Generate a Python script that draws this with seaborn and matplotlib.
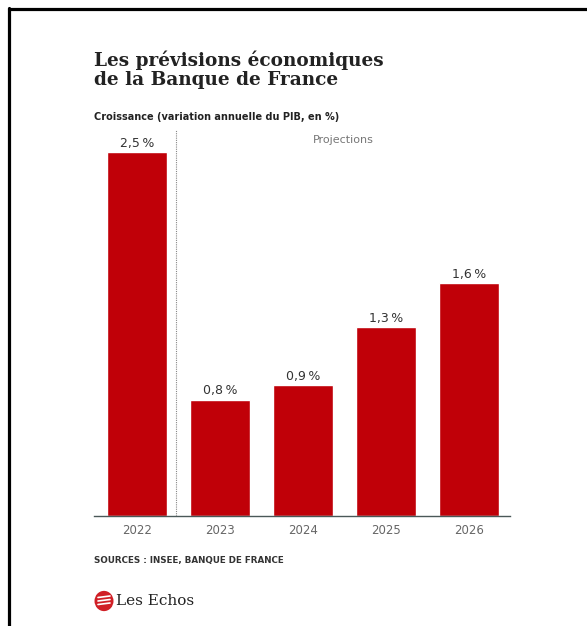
import matplotlib
matplotlib.use("Agg")
import matplotlib.pyplot as plt
from matplotlib.lines import Line2D
from matplotlib.patches import Circle
import seaborn as sns
import pandas as pd

# Growth data (annual GDP change, %)
years = ["2022", "2023", "2024", "2025", "2026"]
growth = [2.5, 0.8, 0.9, 1.3, 1.6]

title = "Les prévisions économiques\nde la Banque de France"
subtitle = "Croissance (variation annuelle du PIB, en %)"
projection_label = "Projections"
source = "SOURCES : INSEE, BANQUE DE FRANCE"
brand = "Les Echos"

W, H = 587, 626
BAR_RED = "#c00008"

sns.set_theme(style="white")
plt.rcParams["font.family"] = ["DejaVu Sans"]

fig = plt.figure(figsize=(W / 100, H / 100), dpi=100)
fig.patch.set_facecolor("white")


def fx(px):
    return px / W


def fy(py):
    return 1 - py / H


ax = fig.add_axes([fx(94), fy(516), fx(510) - fx(94), fy(130) - fy(516)])
df = pd.DataFrame({"year": years, "growth": growth})
sns.barplot(data=df, x="year", y="growth", color=BAR_RED, saturation=1,
            width=0.72, ax=ax)
ax.set_xlim(-0.52, 4.49)
ax.set_ylim(0, 2.651)
ax.set_xlabel("")
ax.set_ylabel("")
ax.set_yticks([])
ax.tick_params(axis="x", length=0, pad=6, labelsize=8.5, labelcolor="#666666")
for side in ["left", "right", "top"]:
    ax.spines[side].set_visible(False)
ax.spines["bottom"].set_color("#4a5858")
ax.spines["bottom"].set_linewidth(1.0)
ax.set_facecolor("white")

labels = [f"{v:.1f}".replace(".", ",") + "\u202f%" for v in growth]
ax.bar_label(ax.containers[0], labels=labels, padding=1.5, fontsize=9,
             color="#333333")

# Separator between observed year and projections
ax.axvline(0.47, ymin=0, ymax=1, color="#888888", linewidth=0.8,
           linestyle=(0, (1, 1)))
ax.text(2.12, 2.58, projection_label, fontsize=8, color="#777777",
        ha="left", va="center")

# Headline texts
fig.text(fx(94), fy(50), title, fontsize=13.3, fontweight="bold",
         family="DejaVu Serif", color="#222222", va="top", ha="left",
         linespacing=1.1)
fig.text(fx(94), fy(117), subtitle, fontsize=7, fontweight="bold",
         color="#222222", va="center", ha="left")
fig.text(fx(94), fy(560), source, fontsize=6.3, fontweight="bold",
         color="#333333", va="center", ha="left")

# Brand mark
logo = Circle((fx(104), fy(601)), 9.5 / W, transform=fig.transFigure,
              facecolor="#d01f26", edgecolor="none")
fig.add_artist(logo)
for dy in (-3.5, 0, 3.5):
    fig.add_artist(Line2D([fx(98), fx(110)], [fy(601 + dy), fy(601 + dy - 1.5)],
                          transform=fig.transFigure, color="white",
                          linewidth=1.2))
fig.text(fx(116), fy(601), brand, fontsize=11, family="DejaVu Serif",
         color="#222222", va="center", ha="left")

# Outer frame (top and left edges)
fig.add_artist(Line2D([fx(8.5), 1.0], [fy(9), fy(9)], transform=fig.transFigure,
                      color="black", linewidth=2.3))
fig.add_artist(Line2D([fx(9), fx(9)], [fy(8), 0], transform=fig.transFigure,
                      color="black", linewidth=2.3))

fig.savefig("out.png", dpi=100, facecolor="white")
